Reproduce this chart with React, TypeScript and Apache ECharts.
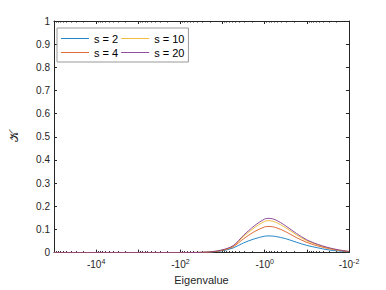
import React, { useEffect, useRef } from 'react';
import * as echarts from 'echarts';

// Eigenvalues (negative, log-spaced) where the curves are read
const eigenvalues = [-1e5, -1e4, -1e3, -100, -31.6, -17.8, -10, -5.62, -3.16, -1.78, -1, -0.79, -0.56, -0.316, -0.178, -0.1, -0.056, -0.0316, -0.0178, -0.01];
const s2 = [0, 0, 0, 0, 0.001, 0.003, 0.008, 0.02, 0.042, 0.059, 0.071, 0.072, 0.07, 0.06, 0.045, 0.031, 0.021, 0.012, 0.007, 0.003];
const s4 = [0, 0, 0, 0, 0.001, 0.003, 0.01, 0.025, 0.06, 0.09, 0.111, 0.113, 0.109, 0.09, 0.065, 0.044, 0.029, 0.018, 0.01, 0.004];
const s10 = [0, 0, 0, 0, 0.001, 0.004, 0.011, 0.028, 0.07, 0.107, 0.135, 0.138, 0.132, 0.107, 0.077, 0.051, 0.034, 0.02, 0.011, 0.005];
const s20 = [0, 0, 0, 0, 0.001, 0.004, 0.012, 0.03, 0.075, 0.115, 0.145, 0.148, 0.142, 0.115, 0.083, 0.055, 0.036, 0.022, 0.012, 0.005];
const seriesNames = ['s = 2', 's = 4', 's = 10', 's = 20'];
const legendOrder = ['s = 2', 's = 10', 's = 4', 's = 20'];
const colors = ['#0072BD', '#D95319', '#EDB120', '#7E2F8E'];
const yTicks = { min: 0, max: 1, interval: 0.1 };

export default function App() {
  const ref = useRef<HTMLDivElement>(null);
  useEffect(() => {
    const chart = echarts.init(ref.current!, null, { renderer: 'svg' });
    const axisColor = '#262626';
    const font = 'Liberation Sans, Arial, Helvetica, sans-serif';
    const mags = eigenvalues.map((v) => -v);
    const allVals = [s2, s4, s10, s20];
    const series = allVals.map((vals, k) => ({
      name: seriesNames[k],
      type: 'line',
      data: mags.map((m, i) => [m, vals[i]]),
      symbol: 'none',
      smooth: 0.3,
      lineStyle: { width: 1, color: colors[k], opacity: 0.85 },
      itemStyle: { color: colors[k] },
      xAxisIndex: 0,
      yAxisIndex: 0,
    }));
    const xBase = (pos: string, showLabel: boolean) => ({
      type: 'log',
      logBase: 10,
      min: 0.01,
      max: 100000,
      inverse: true,
      position: pos,
      splitLine: { show: false },
      axisLine: { show: true, onZero: false, lineStyle: { color: axisColor, width: 1 } },
      axisTick: { show: true, inside: true, length: 3, lineStyle: { color: axisColor } },
      minorTick: { show: true, splitNumber: 9, length: 1.5, lineStyle: { color: axisColor } },
      minorSplitLine: { show: false },
      axisLabel: showLabel
        ? {
            show: true,
            margin: 5,
            color: axisColor,
            fontSize: 10,
            fontFamily: font,
            formatter: (v: number) => {
              const e = Math.round(Math.log10(v));
              return e % 2 === 0 ? `{a|-10}{b|${e}}` : '';
            },
            rich: {
              a: { fontSize: 10, color: axisColor, fontFamily: font },
              b: { fontSize: 7, color: axisColor, fontFamily: font, padding: [0, 0, 6, 0] },
            },
          }
        : { show: false },
      name: showLabel ? 'Eigenvalue' : '',
      nameLocation: 'middle',
      nameGap: 12,
      nameTextStyle: { fontSize: 11, color: axisColor, fontFamily: font },
    });
    const yBase = (pos: string, showLabel: boolean) => ({
      type: 'value',
      ...yTicks,
      position: pos,
      splitLine: { show: false },
      axisLine: { show: true, onZero: false, lineStyle: { color: axisColor, width: 1 } },
      axisTick: { show: true, inside: true, length: 3, lineStyle: { color: axisColor } },
      axisLabel: showLabel
        ? { show: true, margin: 4, color: axisColor, fontSize: 10, fontFamily: font }
        : { show: false },
      name: showLabel ? '𝒦' : '',
      nameLocation: 'middle',
      nameGap: 34,
      nameRotate: 90,
      nameTextStyle: { fontSize: 12, color: axisColor, fontFamily: 'DejaVu Serif, DejaVu Sans, serif' },
    });
    chart.setOption({
      animation: false,
      backgroundColor: '#fff',
      textStyle: { fontFamily: font },
      grid: { left: 50, right: 37, top: 21, bottom: 33, containLabel: false },
      xAxis: [xBase('bottom', true), xBase('top', false)],
      yAxis: [yBase('left', true), yBase('right', false)],
      legend: {
        data: legendOrder.map((n) => ({ name: n, icon: 'rect' })),
        left: 57,
        top: 28,
        width: 150,
        orient: 'horizontal',
        itemWidth: 28,
        itemHeight: 1,
        itemGap: 3,
        padding: [5, 4, 4, 4],
        borderColor: '#999',
        borderWidth: 1,
        borderRadius: 0,
        backgroundColor: '#fff',
        selectedMode: false,
        itemStyle: { opacity: 0.85 },
        textStyle: { fontSize: 11, color: '#000', fontFamily: font },
      },
      series,
    });
    return () => chart.dispose();
  }, []);
  return <div ref={ref} style={{ position: 'fixed', left: 0, top: 0, width: 386, height: 290 }} />;
}
